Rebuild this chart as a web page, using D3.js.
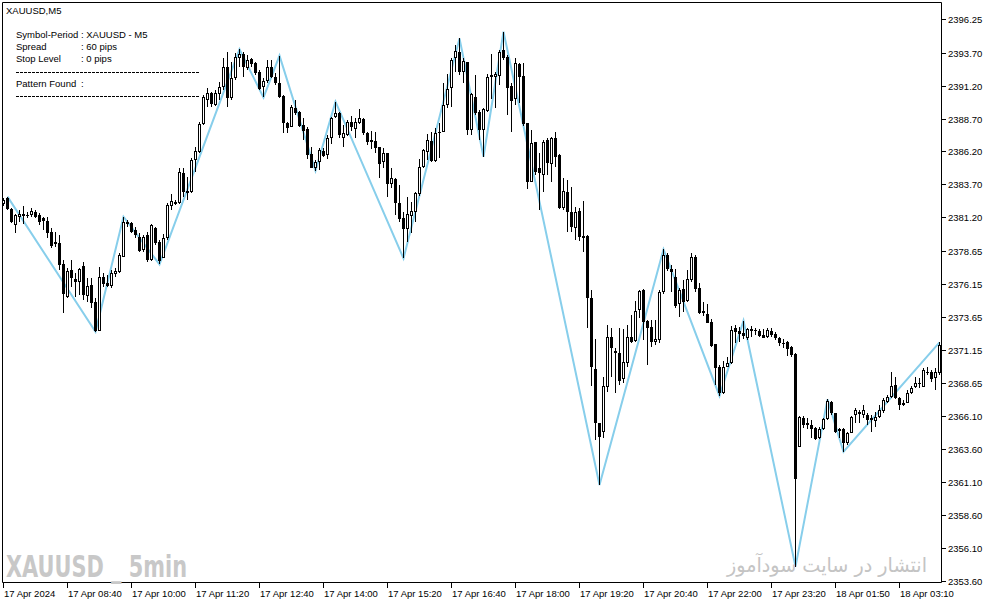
<!DOCTYPE html>
<html><head><meta charset="utf-8">
<script src="https://cdn.jsdelivr.net/npm/d3@7"></script>
<style>
html,body{margin:0;padding:0;background:#fff;}
svg{display:block;}
text{font-family:Tahoma,"Liberation Sans",Arial,sans-serif;}
</style></head>
<body>
<svg id="chart" width="987" height="605"></svg>
<script>
// ---------------- DATA ----------------
const opens = [2382.18,2382.64,2381.83,2380.61,2381.25,2381.30,2381.37,2381.37,2381.63,2381.37,
2381.12,2380.92,2380.11,2379.15,2379.27,2377.63,2375.17,2377.20,2376.52,2376.26,
2377.50,2375.22,2376.06,2374.80,2372.60,2376.69,2376.24,2376.01,2376.87,2377.07,
2378.21,2380.87,2380.74,2380.23,2379.73,2378.72,2379.86,2377.96,2380.36,2379.35,
2378.13,2379.61,2382.06,2382.36,2382.26,2384.59,2383.20,2383.15,2385.55,2386.13,
2388.28,2390.10,2390.61,2389.72,2390.53,2391.11,2392.58,2390.23,2391.75,2393.26,
2393.59,2392.51,2393.19,2392.94,2392.20,2391.06,2391.57,2392.58,2391.82,2391.42,
2390.40,2388.33,2388.08,2389.47,2389.17,2388.20,2387.88,2386.01,2384.92,2385.42,
2386.24,2385.93,2387.25,2388.84,2389.09,2387.19,2387.45,2388.46,2387.90,2388.38,
2388.66,2387.57,2387.07,2386.99,2386.51,2385.42,2386.06,2383.70,2384.11,2382.26,
2381.18,2380.32,2381.33,2381.63,2382.95,2385.04,2386.18,2386.99,2385.50,2387.70,
2387.70,2389.72,2390.99,2393.31,2393.77,2392.25,2392.96,2387.83,2390.36,2389.22,
2387.83,2389.27,2392.00,2391.87,2391.95,2393.90,2393.39,2391.17,2390.15,2392.83,
2391.92,2388.33,2383.91,2386.89,2384.92,2384.41,2387.07,2385.22,2387.24,2385.93,
2381.88,2383.10,2381.58,2380.42,2381.68,2379.78,2379.78,2375.11,2369.67,2365.57,
2364.89,2368.35,2372.14,2371.06,2370.88,2368.94,2370.12,2372.09,2371.82,2374.17,
2375.69,2373.34,2372.86,2371.77,2371.89,2375.56,2378.34,2377.28,2376.70,2374.60,
2375.76,2374.88,2376.45,2378.22,2375.81,2374.12,2373.87,2373.28,2371.56,2369.87,
2367.85,2369.87,2370.12,2372.78,2372.58,2372.45,2372.02,2372.73,2372.65,2372.58,
2372.27,2372.10,2372.58,2372.32,2372.07,2371.69,2371.77,2371.34,2370.83,2363.80,
2365.95,2365.45,2365.45,2365.24,2364.43,2365.12,2365.88,2367.22,2366.33,2365.12,
2365.12,2364.05,2364.86,2366.20,2366.46,2366.20,2366.20,2365.95,2365.77,2366.03,
2366.53,2367.22,2367.60,2368.48,2367.47,2366.96,2367.14,2367.85,2368.30,2368.56,
2368.35,2369.49,2369.49,2368.99,2369.36];
const highs = [2382.64,2382.77,2381.88,2381.45,2381.75,2382.06,2381.63,2381.88,2381.75,2381.50,
2381.25,2381.20,2380.36,2380.11,2379.86,2377.96,2377.33,2377.96,2376.95,2377.33,
2377.83,2376.57,2376.57,2375.05,2377.45,2376.95,2376.82,2377.20,2377.33,2378.46,
2381.25,2380.99,2380.87,2380.49,2379.98,2379.86,2380.11,2380.66,2380.49,2379.48,
2379.91,2382.26,2382.97,2382.52,2384.92,2384.92,2384.29,2385.68,2386.56,2388.46,
2390.48,2390.99,2390.74,2390.86,2391.49,2393.26,2393.77,2393.01,2393.64,2393.95,
2393.77,2393.52,2393.26,2393.01,2392.38,2391.75,2393.14,2393.14,2392.13,2393.47,
2390.48,2388.46,2389.72,2390.10,2389.29,2388.71,2388.03,2386.56,2385.55,2386.44,
2386.44,2387.45,2388.84,2389.98,2389.17,2388.21,2388.59,2388.91,2388.71,2389.39,
2388.71,2387.65,2387.75,2387.70,2386.56,2386.49,2386.11,2384.92,2384.16,2383.65,
2381.63,2382.72,2382.39,2383.15,2385.60,2386.39,2387.50,2387.70,2388.00,2388.33,
2391.37,2392.05,2393.26,2394.28,2394.78,2393.26,2393.01,2390.61,2392.00,2389.34,
2389.47,2392.05,2393.57,2392.25,2393.90,2395.29,2393.52,2391.37,2393.26,2392.88,
2392.88,2388.38,2387.83,2386.94,2386.06,2387.07,2387.19,2387.32,2387.70,2385.98,
2384.16,2384.03,2383.48,2382.01,2381.88,2382.44,2379.86,2375.69,2371.97,2365.60,
2369.11,2373.03,2372.83,2371.31,2372.83,2372.73,2373.03,2373.79,2374.85,2375.69,
2375.75,2373.41,2373.41,2373.41,2375.69,2378.77,2378.47,2377.59,2377.26,2375.81,
2376.45,2377.20,2378.47,2378.34,2376.19,2374.80,2374.62,2373.46,2371.59,2369.98,
2370.33,2370.58,2372.96,2373.03,2372.86,2373.36,2372.78,2372.96,2372.78,2372.70,
2372.70,2372.78,2372.78,2372.53,2372.15,2371.95,2371.84,2371.44,2370.88,2366.13,
2366.13,2365.95,2365.83,2365.32,2365.32,2365.95,2367.39,2367.29,2366.38,2365.19,
2365.19,2364.94,2366.13,2366.71,2366.58,2366.96,2366.38,2366.20,2366.46,2366.96,
2367.47,2367.72,2369.49,2369.11,2367.54,2367.34,2368.10,2368.40,2369.11,2368.99,
2369.74,2369.87,2369.62,2369.74,2371.72];
const lows = [2382.08,2381.75,2380.80,2380.03,2380.87,2380.69,2381.12,2381.25,2381.12,2380.61,
2380.23,2379.60,2378.84,2378.97,2377.20,2373.91,2375.05,2375.93,2375.17,2375.30,
2374.92,2374.80,2374.29,2372.52,2372.55,2375.93,2375.93,2375.81,2376.69,2376.95,
2378.21,2380.49,2379.98,2379.60,2378.59,2378.59,2377.83,2377.88,2379.10,2377.63,
2378.08,2379.48,2381.76,2382.10,2382.21,2382.77,2382.52,2383.02,2384.66,2386.06,
2388.20,2389.60,2389.60,2389.65,2390.10,2390.86,2389.55,2390.10,2391.62,2392.63,
2391.87,2392.38,2392.63,2392.00,2390.86,2390.30,2391.37,2391.75,2391.24,2390.23,
2387.62,2387.62,2388.03,2388.96,2388.03,2387.07,2385.60,2384.92,2384.74,2384.79,
2385.80,2385.60,2386.74,2388.71,2387.19,2386.56,2387.40,2387.75,2387.19,2388.31,
2387.45,2386.69,2386.39,2386.06,2384.16,2384.92,2382.77,2383.40,2381.38,2380.87,
2378.09,2379.36,2379.99,2380.87,2382.84,2384.92,2385.55,2385.42,2385.42,2385.68,
2387.65,2389.52,2389.60,2392.25,2392.00,2391.37,2387.45,2387.45,2388.96,2387.07,
2385.80,2389.17,2390.18,2389.52,2391.24,2393.14,2388.96,2387.70,2389.72,2389.85,
2388.16,2383.32,2383.86,2384.41,2381.76,2383.15,2384.41,2383.91,2385.04,2381.83,
2381.76,2380.11,2380.11,2379.48,2379.41,2378.60,2372.83,2368.43,2364.31,2360.89,
2364.48,2367.92,2369.11,2367.85,2368.48,2368.61,2369.87,2371.64,2371.77,2373.54,
2371.89,2369.99,2371.34,2371.52,2371.64,2375.38,2377.15,2375.56,2374.35,2373.61,
2374.04,2374.80,2376.32,2375.56,2373.87,2373.72,2373.16,2371.39,2368.48,2367.65,
2367.80,2369.82,2370.07,2371.64,2371.77,2372.00,2371.89,2372.15,2372.27,2372.10,
2372.02,2372.02,2372.15,2371.89,2371.44,2371.26,2370.68,2370.58,2354.70,2363.75,
2365.19,2365.12,2364.43,2364.31,2364.36,2365.07,2365.83,2366.20,2364.86,2364.43,
2363.42,2363.93,2364.81,2365.62,2365.62,2365.95,2365.45,2364.94,2365.32,2365.95,
2366.38,2367.14,2367.47,2367.39,2366.58,2366.89,2367.09,2367.77,2368.23,2368.23,
2368.30,2369.24,2368.73,2368.10,2369.24];
const closes = [2382.51,2381.83,2380.87,2381.37,2381.45,2381.45,2381.40,2381.68,2381.20,2380.82,
2380.94,2380.03,2379.05,2379.35,2377.58,2375.35,2377.12,2376.62,2376.26,2377.27,
2375.30,2375.98,2374.67,2372.60,2376.69,2376.14,2376.01,2376.95,2377.12,2378.34,
2380.87,2380.72,2380.11,2379.86,2378.67,2379.73,2377.96,2380.61,2379.22,2377.88,
2379.60,2382.14,2382.42,2382.24,2384.61,2383.15,2383.07,2385.55,2386.24,2388.26,
2390.30,2390.66,2389.77,2390.61,2391.11,2392.58,2390.23,2391.75,2393.34,2393.57,
2392.58,2393.14,2392.83,2392.13,2390.91,2391.54,2392.58,2391.82,2391.42,2390.30,
2388.33,2387.95,2389.55,2389.14,2388.13,2387.78,2385.93,2384.97,2385.42,2386.31,
2385.88,2387.19,2388.71,2389.09,2387.45,2387.57,2388.46,2388.08,2388.46,2388.71,
2387.57,2386.94,2386.94,2386.49,2385.22,2386.06,2383.70,2384.16,2382.26,2381.07,
2380.32,2381.43,2381.68,2383.02,2384.99,2386.31,2387.07,2385.47,2387.57,2387.57,
2389.72,2390.94,2393.14,2393.82,2392.25,2393.06,2387.83,2390.53,2389.14,2387.83,
2389.39,2391.82,2391.87,2392.05,2393.72,2393.31,2391.04,2390.05,2392.88,2391.87,
2388.28,2383.91,2386.81,2384.67,2384.54,2386.89,2385.35,2387.19,2385.80,2381.93,
2383.20,2381.63,2380.49,2381.58,2379.73,2379.61,2375.11,2369.87,2365.57,2364.56,
2368.40,2372.09,2371.26,2370.88,2368.78,2370.20,2372.09,2371.72,2374.12,2375.61,
2373.28,2372.78,2371.77,2371.97,2375.56,2378.34,2377.26,2377.08,2374.47,2375.69,
2374.80,2376.50,2378.22,2375.74,2373.97,2373.97,2373.21,2371.44,2369.79,2367.85,
2369.87,2370.12,2372.65,2372.53,2372.35,2372.20,2372.70,2372.60,2372.58,2372.20,
2372.07,2372.65,2372.27,2372.02,2371.64,2371.59,2371.19,2370.76,2361.32,2366.03,
2365.45,2365.62,2365.14,2364.38,2365.12,2365.88,2367.29,2366.33,2364.94,2365.02,
2364.05,2364.86,2366.03,2366.58,2366.25,2366.58,2365.83,2365.83,2366.08,2366.58,
2367.34,2367.60,2368.40,2367.47,2366.96,2367.14,2367.85,2368.23,2368.66,2368.66,
2369.62,2369.36,2368.91,2369.49,2371.52];

// ZigZag pivots (bar index, price)
const zzIndex = [1,23,30,39,59,65,69,78,83,100,114,120,125,149,165,179,185,198,206,210,234];
const zzPrice = [2382.77,2372.52,2381.25,2377.63,2393.95,2390.30,2393.47,2384.74,2389.98,2378.09,
2394.78,2385.80,2395.29,2360.89,2378.77,2367.65,2373.36,2354.70,2367.39,2363.42,2371.72];

// Price axis labels
const priceTicks = ["2396.25","2393.70","2391.20","2388.70","2386.20","2383.70","2381.20","2378.65",
"2376.15","2373.65","2371.15","2368.65","2366.10","2363.60","2361.10","2358.60","2356.10","2353.60"];
// Time axis labels (bar index, label)
const timeTickIndex = [0,16,32,48,64,80,96,112,128,144,160,176,192,208,224];
const timeTickLabels = ["17 Apr 2024","17 Apr 08:40","17 Apr 10:00","17 Apr 11:20","17 Apr 12:40",
"17 Apr 14:00","17 Apr 15:20","17 Apr 16:40","17 Apr 18:00","17 Apr 19:20","17 Apr 20:40",
"17 Apr 22:00","17 Apr 23:20","18 Apr 01:50","18 Apr 03:10"];

const infoLines = [["Symbol-Period",": XAUUSD - M5"],["Spread",": 60 pips"],["Stop Level",": 0 pips"]];

// ---------------- DRAW ----------------
const svg = d3.select("#chart");
const L = 2, T = 2, R = 941, B = 582;
const x = d3.scaleLinear().domain([0, 234]).range([3, 939]);
const y = d3.scaleLinear().domain([2353.60, 2396.25]).range([581.1, 19]);

svg.append("rect").attr("x",0).attr("y",0).attr("width",987).attr("height",605).attr("fill","#fff");

// zigzag (behind candles)
const zz = zzIndex.map((d,k)=>[Math.round(x(d))+0.5, y(zzPrice[k])]);
svg.append("path").attr("d", d3.line()(zz)).attr("fill","none")
  .attr("stroke","#87CEEB").attr("stroke-width",2).attr("stroke-linejoin","miter");

// candles
const bars = d3.range(opens.length).map(i=>({i,o:opens[i],h:highs[i],l:lows[i],c:closes[i]}));
const g = svg.append("g");
bars.forEach(d=>{
  const c = Math.round(x(d.i));
  const yh = Math.round(y(d.h)), yl = Math.round(y(d.l));
  g.append("line").attr("x1",c+0.5).attr("x2",c+0.5).attr("y1",yh).attr("y2",Math.max(yl,yh+1))
    .attr("stroke","#000").attr("stroke-width",1);
  const yt = Math.round(y(Math.max(d.o,d.c))), yb = Math.round(y(Math.min(d.o,d.c)));
  if (d.c < d.o) {
    g.append("rect").attr("x",c-1).attr("y",yt).attr("width",3).attr("height",Math.max(1,yb-yt)).attr("fill","#000");
  } else if (yb - yt >= 2) {
    g.append("rect").attr("x",c-0.5).attr("y",yt+0.5).attr("width",2).attr("height",yb-yt-1)
      .attr("fill","#fff").attr("stroke","#000").attr("stroke-width",1);
  } else {
    g.append("rect").attr("x",c-1).attr("y",yt).attr("width",3).attr("height",Math.max(1,yb-yt)).attr("fill","#000");
  }
});

// frame
svg.append("path").attr("d",`M${L+0.5},${B+0.5}V${T+0.5}H${R+0.5}V${B+0.5}H${L+0.5}`)
  .attr("fill","none").attr("stroke","#000").attr("stroke-width",1);

// right price axis
const pa = svg.append("g");
priceTicks.forEach(t=>{
  const yy = Math.round(y(+t));
  pa.append("line").attr("x1",R+1).attr("x2",R+5).attr("y1",yy+0.5).attr("y2",yy+0.5).attr("stroke","#000");
  pa.append("text").attr("x",R+7).attr("y",yy+4).attr("font-size","9.5px").attr("fill","#000").text(t);
});

// bottom time axis
const ta = svg.append("g");
timeTickIndex.forEach((ti,k)=>{
  const xx = Math.round(x(ti));
  ta.append("line").attr("x1",xx+0.5).attr("x2",xx+0.5).attr("y1",B+1).attr("y2",B+6).attr("stroke","#000");
  ta.append("text").attr("x",xx+1).attr("y",597).attr("font-size","9.5px").attr("fill","#000").text(timeTickLabels[k]);
});

// title + info panel
svg.append("text").attr("x",6).attr("y",14).attr("font-size","9.5px").attr("fill","#000").text("XAUUSD,M5");
infoLines.forEach((r,k)=>{
  const yy = 38 + k*12;
  svg.append("text").attr("x",16).attr("y",yy).attr("font-size","9.5px").attr("fill","#000").text(r[0]);
  svg.append("text").attr("x",81).attr("y",yy).attr("font-size","9.5px").attr("fill","#000").text(r[1]);
});
svg.append("line").attr("x1",16).attr("x2",199).attr("y1",72.5).attr("y2",72.5)
  .attr("stroke","#000").attr("stroke-dasharray","3,1");
svg.append("text").attr("x",16).attr("y",87).attr("font-size","9.5px").attr("fill","#000").text("Pattern Found");
svg.append("text").attr("x",81).attr("y",87).attr("font-size","9.5px").attr("fill","#000").text(":");
svg.append("line").attr("x1",16).attr("x2",199).attr("y1",96.5).attr("y2",96.5)
  .attr("stroke","#000").attr("stroke-dasharray","3,1");

// watermarks
svg.append("text").attr("x",6).attr("y",577).attr("font-size","31px").attr("font-weight","bold")
  .style("font-family","'Liberation Sans Narrow','DejaVu Sans Condensed','Liberation Sans',sans-serif")
  .attr("textLength",181).attr("lengthAdjust","spacingAndGlyphs")
  .attr("fill","#c8c8c8").text("XAUUSD _ 5min");
svg.append("text").attr("x",927).attr("y",572).attr("text-anchor","end").attr("font-size","20px")
  .style("font-family","'DejaVu Sans',sans-serif")
  .attr("textLength",200).attr("lengthAdjust","spacingAndGlyphs")
  .attr("fill","#c4c4c4").text("انتشار در سایت سودآموز");
</script>
</body></html>
